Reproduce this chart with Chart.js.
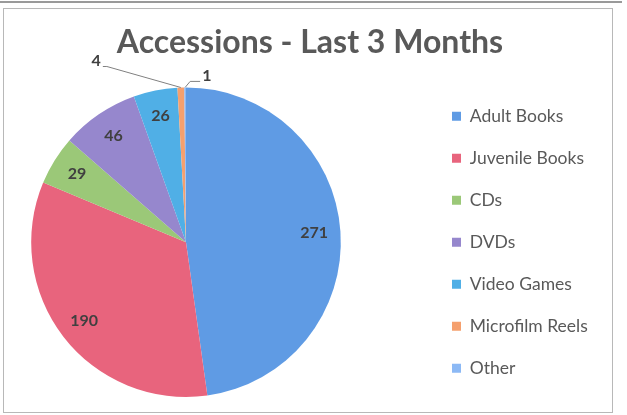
<!DOCTYPE html>
<html>
<head>
<meta charset="utf-8">
<script src="https://cdn.jsdelivr.net/npm/chart.js@4.4.1/dist/chart.umd.min.js"></script>
<style>
  html, body { margin: 0; padding: 0; background: #fff; }
  #wrap { position: relative; width: 627px; height: 415px; overflow: hidden; }
  #topline { position: absolute; left: 0; top: 1px; width: 622px; height: 2px; background: #9a9a9a; }
  #frame { position: absolute; left: 3px; top: 8px; width: 608px; height: 403px; border: 1px solid #b8b8b8; }
  canvas { position: absolute; left: 0; top: 0; }
</style>
</head>
<body>
<div id="wrap">
  <div id="topline"></div>
  <div id="frame"></div>
  <canvas id="chart" width="627" height="415"></canvas>
</div>
<script>
const categories = ["Adult Books", "Juvenile Books", "CDs", "DVDs", "Video Games", "Microfilm Reels", "Other"];
const accessions = [271, 190, 29, 46, 26, 4, 1];
const sliceColors = ["#5F9BE4", "#E8647D", "#9BC878", "#9687CD", "#50AFE6", "#F5A06E", "#8CB9F5"];

const PIE_X = 186;        // pie centre, px
const LEGEND_X = 452;     // left edge of the legend boxes, px

// pin pie and legend where the spreadsheet put them
const placeBoxes = {
  id: "placeBoxes",
  afterLayout(chart) {
    const a = chart.chartArea;
    const h = a.bottom - a.top;
    a.left = PIE_X - h / 2;
    a.right = PIE_X + h / 2;
    a.width = h;
    const lg = chart.legend;
    const w = lg.width;
    lg.left = LEGEND_X - lg.options.labels.padding;
    lg.right = lg.left + w;
    // centre the legend on the pie, not on the whole canvas
    const shift = ((a.top + a.bottom) - (lg.top + lg.bottom)) / 2;
    lg.top += shift;
    lg.bottom += shift;
  }
};

// value labels, with leader lines for the thin slices
const sliceLabels = {
  id: "sliceLabels",
  afterDatasetsDraw(chart, args, opts) {
    const ctx = chart.ctx;
    const meta = chart.getDatasetMeta(0);
    const values = chart.data.datasets[0].data;
    ctx.save();
    ctx.font = opts.font;
    ctx.fillStyle = opts.color;
    ctx.strokeStyle = opts.lineColor;
    ctx.lineWidth = 1;
    meta.data.forEach((arc, i) => {
      const p = arc.getProps(["x", "y", "startAngle", "endAngle", "outerRadius"], true);
      const mid = (p.startAngle + p.endAngle) / 2;
      const c = opts.callouts[i];
      if (!c) {
        const r = p.outerRadius * opts.inset;
        ctx.textAlign = "center";
        ctx.textBaseline = "middle";
        ctx.fillText(values[i], p.x + Math.cos(mid) * r, p.y + Math.sin(mid) * r);
        return;
      }
      const ax = p.x + Math.cos(mid) * p.outerRadius;
      const ay = p.y + Math.sin(mid) * p.outerRadius;
      const ex = ax + c.dx, ey = ay + c.dy, tx = ex + c.tail;
      ctx.beginPath();
      ctx.moveTo(ax, ay);
      ctx.lineTo(ex, ey);
      ctx.lineTo(tx, ey);
      ctx.stroke();
      ctx.textAlign = c.tail < 0 ? "right" : "left";
      ctx.textBaseline = "middle";
      ctx.fillText(values[i], tx + Math.sign(c.tail) * 2, ey - 5.5);
    });
    ctx.restore();
  }
};

new Chart(document.getElementById("chart").getContext("2d"), {
  type: "pie",
  data: {
    labels: categories,
    datasets: [{
      data: accessions,
      backgroundColor: sliceColors,
      borderWidth: 0
    }]
  },
  options: {
    responsive: false,
    animation: false,
    layout: { padding: { left: 8, right: 15, top: 8, bottom: 18 } },
    plugins: {
      title: {
        display: true,
        text: "Accessions - Last 3 Months",
        color: "#595959",
        font: { family: "Lato", size: 32, weight: "bold" },
        padding: { top: 15, bottom: 26 }
      },
      legend: {
        position: "right",
        labels: {
          boxWidth: 9,
          boxHeight: 9,
          padding: 24.5,
          color: "#595959",
          font: { family: "Lato", size: 17.5 }
        }
      },
      tooltip: { enabled: false },
      sliceLabels: {
        font: "bold 16px Lato",
        color: "#404040",
        lineColor: "#808080",
        inset: 0.83,
        callouts: [null, null, null, null, null,
          { dx: -74, dy: -21, tail: -4 },
          { dx: 5, dy: -6, tail: 10 }]
      }
    }
  },
  plugins: [placeBoxes, sliceLabels]
});
</script>
</body>
</html>
